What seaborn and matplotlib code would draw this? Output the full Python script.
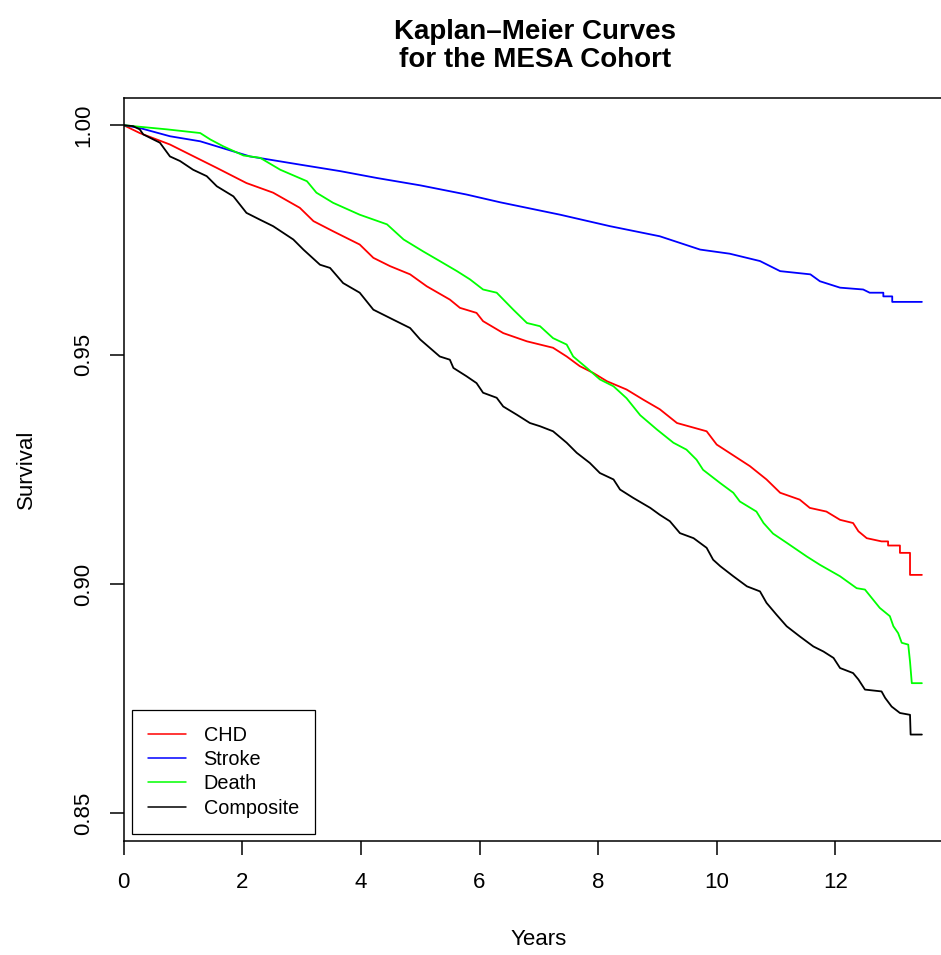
import numpy as np
import pandas as pd
import matplotlib
matplotlib.use("Agg")
import matplotlib.pyplot as plt
import seaborn as sns

# Kaplan-Meier survival estimates (time in years, survival probability)
chd_t = [0, 0.27, 0.78, 1.12, 1.57, 2.07, 2.52, 2.97, 3.20, 3.53, 3.98, 4.21, 4.49,
         4.83, 5.11, 5.50, 5.67, 5.95, 6.06, 6.40, 6.80, 7.24, 7.47, 7.69, 7.92, 8.15,
         8.48, 8.76, 9.04, 9.33, 9.83, 10.0, 10.56, 10.84, 11.07, 11.40, 11.57, 11.85,
         12.08, 12.30, 12.39, 12.53, 12.78, 12.89, 12.89, 13.09, 13.09, 13.26, 13.26, 13.46]
chd_s = [1.0, 0.9983, 0.9958, 0.9936, 0.9907, 0.9874, 0.9853, 0.9820, 0.9791, 0.9769,
         0.9740, 0.9711, 0.9693, 0.9675, 0.9649, 0.9620, 0.9602, 0.9591, 0.9573, 0.9547,
         0.9529, 0.9515, 0.9496, 0.9475, 0.9460, 0.9442, 0.9424, 0.9402, 0.9381, 0.9351,
         0.9333, 0.9304, 0.9257, 0.9228, 0.9199, 0.9184, 0.9166, 0.9158, 0.9140, 0.9133,
         0.9115, 0.9100, 0.9093, 0.9093, 0.9084, 0.9084, 0.9068, 0.9068, 0.9020, 0.9020]

stroke_t = [0, 0.27, 0.78, 1.29, 2.13, 2.98, 3.65, 4.27, 5.0, 5.78, 6.35, 7.36, 8.2,
            9.04, 9.72, 10.22, 10.73, 11.07, 11.58, 11.74, 12.08, 12.47, 12.58, 12.81,
            12.81, 12.96, 12.96, 13.46]
stroke_s = [1.0, 0.9994, 0.9976, 0.9965, 0.9932, 0.9914, 0.9900, 0.9885, 0.9869, 0.9849,
            0.9832, 0.9805, 0.9780, 0.9758, 0.9729, 0.9720, 0.9704, 0.9682, 0.9675, 0.9660,
            0.9646, 0.9642, 0.9635, 0.9635, 0.9627, 0.9627, 0.9615, 0.9615]

death_t = [0, 0.73, 1.29, 1.46, 1.68, 2.02, 2.30, 2.64, 3.09, 3.25, 3.53, 3.98, 4.44,
           4.72, 5.05, 5.33, 5.62, 5.84, 6.06, 6.29, 6.57, 6.80, 7.02, 7.24, 7.47, 7.58,
           7.81, 8.03, 8.26, 8.48, 8.71, 8.99, 9.27, 9.49, 9.66, 9.77, 10.06, 10.28, 10.39,
           10.67, 10.79, 10.95, 11.18, 11.52, 11.74, 12.08, 12.36, 12.50, 12.75, 12.92,
           12.98, 13.06, 13.12, 13.23, 13.26, 13.29, 13.46]
death_s = [1.0, 0.9991, 0.9983, 0.9969, 0.9954, 0.9934, 0.9929, 0.9903, 0.9878, 0.9853,
           0.9831, 0.9805, 0.9784, 0.9751, 0.9725, 0.9704, 0.9682, 0.9664, 0.9642, 0.9635,
           0.9598, 0.9569, 0.9562, 0.9536, 0.9522, 0.9496, 0.9471, 0.9446, 0.9431, 0.9405,
           0.9368, 0.9337, 0.9308, 0.9293, 0.9271, 0.9249, 0.9220, 0.9199, 0.9180, 0.9158,
           0.9133, 0.9110, 0.9090, 0.9060, 0.9042, 0.9017, 0.8991, 0.8988, 0.8948, 0.8930,
           0.8908, 0.8893, 0.8872, 0.8868, 0.8831, 0.8784, 0.8784]

composite_t = [0, 0.16, 0.27, 0.33, 0.50, 0.61, 0.78, 0.95, 1.17, 1.40, 1.57, 1.85, 2.07,
               2.30, 2.52, 2.86, 3.03, 3.31, 3.48, 3.70, 3.98, 4.21, 4.55, 4.83, 5.0, 5.33,
               5.50, 5.56, 5.78, 5.95, 6.06, 6.29, 6.40, 6.63, 6.85, 7.02, 7.24, 7.47, 7.64,
               7.86, 8.03, 8.26, 8.37, 8.59, 8.88, 9.04, 9.21, 9.38, 9.61, 9.83, 9.94, 10.06,
               10.28, 10.51, 10.73, 10.84, 11.01, 11.18, 11.40, 11.63, 11.80, 11.97, 12.08,
               12.30, 12.39, 12.50, 12.78, 12.84, 12.95, 13.09, 13.26, 13.27, 13.46]
composite_s = [1.0, 0.9998, 0.9991, 0.9980, 0.9969, 0.9962, 0.9932, 0.9922, 0.9903, 0.9889,
               0.9867, 0.9845, 0.9809, 0.9794, 0.9780, 0.9751, 0.9729, 0.9696, 0.9689,
               0.9656, 0.9635, 0.9598, 0.9576, 0.9558, 0.9533, 0.9496, 0.9489, 0.9471,
               0.9453, 0.9438, 0.9417, 0.9406, 0.9387, 0.9369, 0.9351, 0.9344, 0.9333,
               0.9308, 0.9286, 0.9264, 0.9242, 0.9228, 0.9206, 0.9188, 0.9166, 0.9151,
               0.9137, 0.9111, 0.9100, 0.9079, 0.9053, 0.9039, 0.9017, 0.8995, 0.8984,
               0.8959, 0.8933, 0.8908, 0.8886, 0.8864, 0.8853, 0.8839, 0.8817, 0.8806,
               0.8792, 0.8770, 0.8766, 0.8752, 0.8733, 0.8719, 0.8715, 0.8672, 0.8672]

outcomes = ["CHD", "Stroke", "Death", "Composite"]
colors = ["#FF0000", "#0000FF", "#00FF00", "#000000"]
x_ticks = [0, 2, 4, 6, 8, 10, 12]
y_ticks = [0.85, 0.90, 0.95, 1.00]

series = {
    "CHD": (chd_t, chd_s),
    "Stroke": (stroke_t, stroke_s),
    "Death": (death_t, death_s),
    "Composite": (composite_t, composite_s),
}
df = pd.concat(
    [pd.DataFrame({"time": t, "surv": s, "outcome": name}) for name, (t, s) in series.items()],
    ignore_index=True,
)

sns.set_theme(style="ticks")
plt.rcParams["font.family"] = ["Liberation Sans", "DejaVu Sans"]
plt.rcParams.update({
    "text.color": "black",
    "axes.labelcolor": "black",
    "xtick.color": "black",
    "ytick.color": "black",
    "axes.edgecolor": "black",
})

fig = plt.figure(figsize=(9.41, 9.55), dpi=100)
ax = fig.add_axes([0.13146, 0.11937, 0.88225, 0.77832])

sns.lineplot(
    data=df, x="time", y="surv", hue="outcome", hue_order=outcomes,
    palette=dict(zip(outcomes, colors)), estimator=None, sort=False,
    linewidth=1.3, legend=False, ax=ax,
)

ax.set_xlim(0, 14)
ax.set_ylim(0.844, 1.006)
ax.set_xticks(x_ticks)
ax.set_xticklabels([str(v) for v in x_ticks])
ax.set_yticks(y_ticks)
ax.set_yticklabels([f"{v:.2f}" for v in y_ticks], rotation=90, va="center")

for side in ["left", "bottom", "top", "right"]:
    ax.spines[side].set_visible(True)
    ax.spines[side].set_linewidth(1.1)
    ax.spines[side].set_color("black")

ax.tick_params(axis="both", direction="out", length=10, width=1.1, color="black",
               labelsize=16, labelcolor="black")
ax.tick_params(axis="x", pad=12)
ax.tick_params(axis="y", pad=11)

ax.set_xlabel("Years", fontsize=16, color="black")
ax.set_ylabel("Survival", fontsize=16, color="black")
ax.xaxis.set_label_coords(0.5, -0.118)
ax.yaxis.set_label_coords(-0.104, 0.5)

title = ax.set_title("Kaplan\u2013Meier Curves\nfor the MESA Cohort", fontsize=20,
                     fontweight="bold", pad=22, linespacing=1.1, color="black")
title.set_x(0.495)

leg = ax.legend(
    handles=ax.get_lines()[:4], labels=outcomes, loc="lower left",
    bbox_to_anchor=(0.01, 0.01), borderaxespad=0, fontsize=14.3,
    frameon=True, fancybox=False, edgecolor="black", framealpha=1,
    handlelength=1.9, handletextpad=0.9, borderpad=0.8, labelspacing=0.27,
)
leg.get_frame().set_linewidth(0.9)
for h in leg.get_lines():
    h.set_linewidth(1.1)
for txt in leg.get_texts():
    txt.set_color("black")

fig.savefig("out.png", dpi=100)
